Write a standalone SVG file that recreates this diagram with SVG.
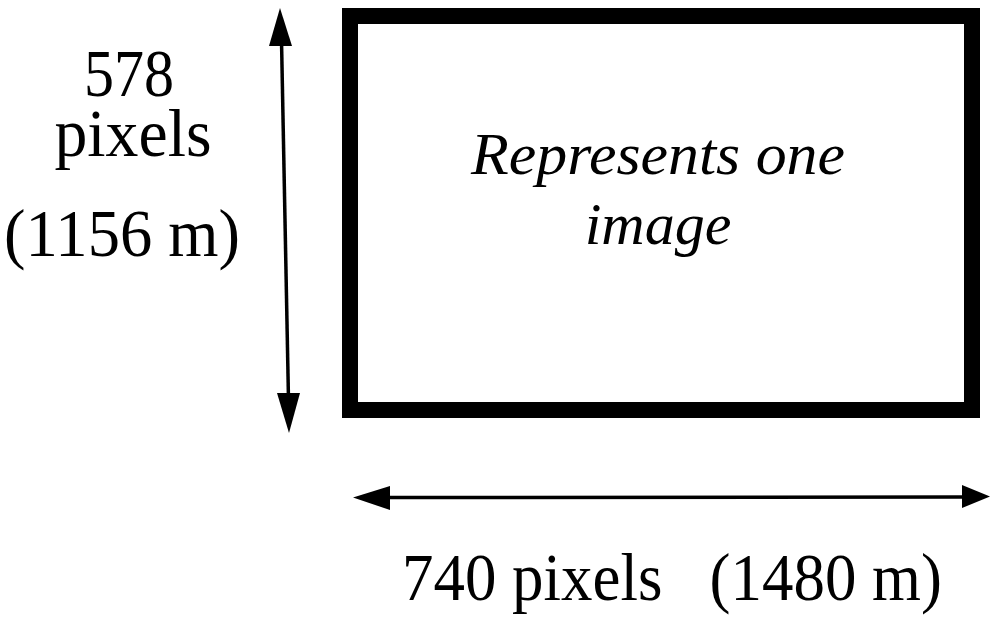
<svg xmlns="http://www.w3.org/2000/svg" width="990" height="622" viewBox="0 0 990 622">
<style>
.lbl{font-family:"Liberation Serif","Times New Roman",serif;font-size:68px;fill:#000}
.it{font-family:"Liberation Serif","Times New Roman",serif;font-style:italic;font-size:60px;fill:#000}
.ln{stroke:#000;stroke-width:3.5;fill:none}
</style>
<rect width="990" height="622" fill="#fff"/>
<g id="image-box">
<rect x="350" y="16" width="622" height="394" fill="none" stroke="#000" stroke-width="16"/>
<text class="it" x="658" y="174" text-anchor="middle" textLength="374" lengthAdjust="spacingAndGlyphs">Represents one</text>
<text class="it" x="658" y="244" text-anchor="middle">image</text>
</g>
<g id="height-label">
<text class="lbl" x="129" y="96" text-anchor="middle" textLength="90" lengthAdjust="spacingAndGlyphs">578</text>
<text class="lbl" x="133" y="156" text-anchor="middle" textLength="157" lengthAdjust="spacingAndGlyphs">pixels</text>
<text class="lbl" x="122" y="256" text-anchor="middle" textLength="236" lengthAdjust="spacingAndGlyphs">(1156 m)</text>
</g>
<g id="width-label">
<text class="lbl" x="402" y="600" xml:space="preserve" textLength="540" lengthAdjust="spacingAndGlyphs">740 pixels   (1480 m)</text>
</g>
<g id="connectors">
<line class="ln" x1="281.5" y1="40" x2="288.5" y2="400"/>
<polygon points="280,8 269,46 292,46"/>
<polygon points="289,433 277,393 300,393"/>
<line class="ln" x1="385" y1="497.5" x2="965" y2="497"/>
<polygon points="353,497.5 390,486 390,510"/>
<polygon points="990,496.5 962,485 962,508"/>
</g>
</svg>
